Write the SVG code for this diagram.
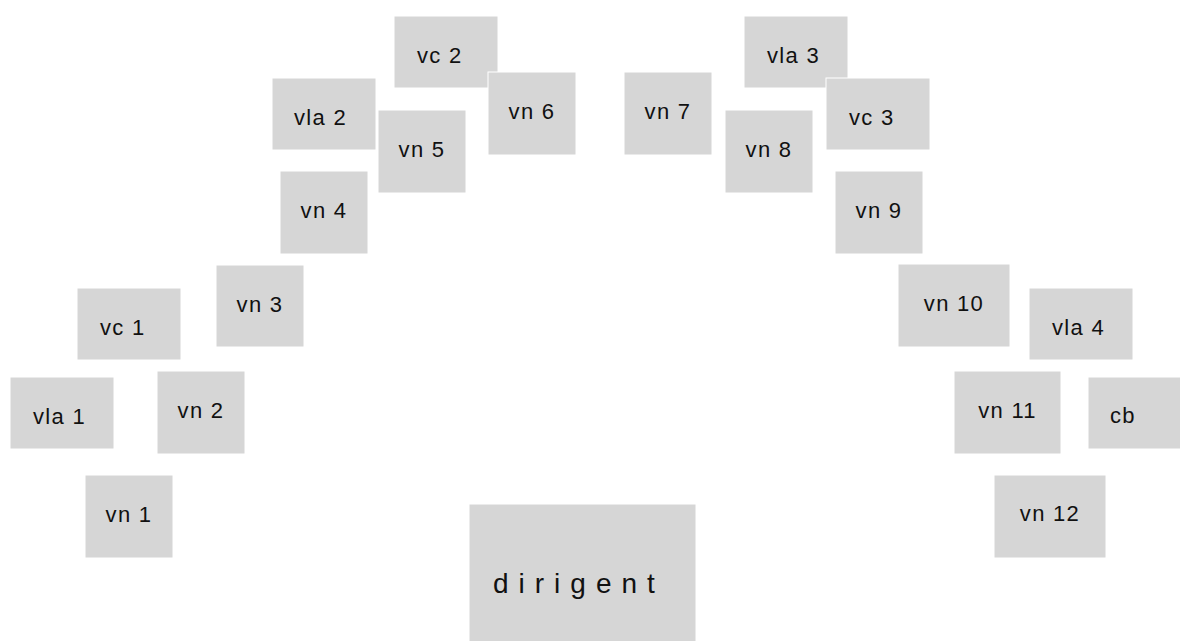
<svg xmlns="http://www.w3.org/2000/svg" width="1180" height="641" viewBox="0 0 1180 641">
<style>
rect{fill:#d6d6d6;stroke:#ffffff;stroke-width:1}
text{font-family:"Liberation Sans",Arial,sans-serif;font-size:22px;fill:#111111;letter-spacing:1.3px}
.m{text-anchor:middle}
.d{font-size:28px;letter-spacing:10px}
</style>
<rect width="1180" height="641" fill="#ffffff" style="fill:#ffffff;stroke:none"/>
<g id="vc1"><rect x="77" y="288" width="104" height="72"/><text x="100" y="335">vc 1</text></g>
<g id="vla1"><rect x="10" y="377" width="104" height="72"/><text x="33" y="424">vla 1</text></g>
<g id="vn1"><rect x="85" y="475" width="88" height="83"/><text class="m" x="129" y="522">vn 1</text></g>
<g id="vn2"><rect x="157" y="371" width="88" height="83"/><text class="m" x="201" y="418">vn 2</text></g>
<g id="vn3"><rect x="216" y="265" width="88" height="82"/><text class="m" x="260" y="312">vn 3</text></g>
<g id="vn4"><rect x="280" y="171" width="88" height="83"/><text class="m" x="324" y="218">vn 4</text></g>
<g id="vla2"><rect x="272" y="78" width="104" height="72"/><text x="294" y="125">vla 2</text></g>
<g id="vn5"><rect x="378" y="110" width="88" height="83"/><text class="m" x="422" y="157">vn 5</text></g>
<g id="vc2"><rect x="394" y="16" width="104" height="72"/><text x="417" y="63">vc 2</text></g>
<g id="vn6"><rect x="488" y="72" width="88" height="83"/><text class="m" x="532" y="119">vn 6</text></g>
<g id="vn7"><rect x="624" y="72" width="88" height="83"/><text class="m" x="668" y="119">vn 7</text></g>
<g id="vla3"><rect x="744" y="16" width="104" height="72"/><text x="767" y="63">vla 3</text></g>
<g id="vn8"><rect x="725" y="110" width="88" height="83"/><text class="m" x="769" y="157">vn 8</text></g>
<g id="vc3"><rect x="826" y="78" width="104" height="72"/><text x="849" y="125">vc 3</text></g>
<g id="vn9"><rect x="835" y="171" width="88" height="83"/><text class="m" x="879" y="218">vn 9</text></g>
<g id="vn10"><rect x="898" y="264" width="112" height="83"/><text class="m" x="954" y="311">vn 10</text></g>
<g id="vla4"><rect x="1029" y="288" width="104" height="72"/><text x="1052" y="335">vla 4</text></g>
<g id="vn11"><rect x="954" y="371" width="107" height="83"/><text class="m" x="1007.5" y="418">vn 11</text></g>
<g id="cb"><rect x="1088" y="377" width="104" height="72"/><text x="1110" y="423">cb</text></g>
<g id="vn12"><rect x="994" y="475" width="112" height="83"/><text class="m" x="1050" y="521">vn 12</text></g>
<g id="dirigent"><rect x="469" y="504" width="227" height="140"/><text class="d" x="493" y="593">dirigent</text></g>
<g id="connectors"></g>
</svg>
